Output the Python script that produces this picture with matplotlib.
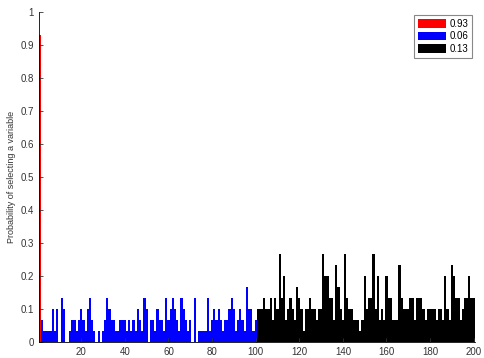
import matplotlib.pyplot as plt

plt.rcParams['font.family'] = ['Liberation Sans', 'DejaVu Sans']

# selection counts out of 30 runs for each variable
N_RUNS = 30
red_value = 0.93  # variable 1

# variables 2..100
blue_counts = [2, 1, 1, 1, 1, 3, 1, 3, 0,
               4, 3, 0, 0, 1, 2, 2, 1, 2, 3,
               2, 1, 3, 4, 2, 1, 0, 1, 0, 1,
               2, 4, 3, 2, 2, 1, 1, 2, 2, 2,
               1, 2, 1, 2, 1, 3, 2, 1, 4, 3,
               0, 2, 2, 1, 3, 2, 2, 1, 4, 2,
               3, 4, 3, 2, 1, 4, 3, 2, 1, 2,
               0, 4, 0, 1, 1, 1, 1, 4, 1, 2,
               3, 2, 3, 2, 1, 2, 2, 3, 4, 3,
               1, 2, 3, 2, 1, 5, 3, 3, 1, 2]

# variables 101..200
black_counts = [3, 3, 3, 4, 3, 3, 4, 2, 4, 3,
                8, 4, 6, 2, 3, 4, 3, 2, 5, 4,
                3, 1, 3, 3, 4, 3, 3, 2, 3, 3,
                8, 6, 6, 4, 4, 2, 7, 5, 3, 2,
                8, 4, 3, 3, 2, 2, 2, 1, 2, 6,
                3, 4, 4, 8, 3, 6, 2, 3, 2, 6,
                4, 4, 2, 2, 2, 7, 4, 3, 3, 3,
                4, 4, 2, 4, 4, 4, 3, 2, 3, 3,
                3, 3, 2, 3, 3, 2, 6, 3, 2, 7,
                6, 4, 4, 2, 3, 4, 4, 6, 4, 4]

legend_labels = ['0.93', '0.06', '0.13']

blue_x = list(range(2, 2 + len(blue_counts)))
black_x = list(range(101, 101 + len(black_counts)))
blue_p = [c / N_RUNS for c in blue_counts]
black_p = [c / N_RUNS for c in black_counts]

fig = plt.figure(figsize=(4.84, 3.58), dpi=100)
ax = fig.add_axes([0.08, 0.045, 0.901, 0.922])

h_red = ax.bar([1], [red_value], width=1, color='#ff0000', linewidth=0)
h_blue = ax.bar(blue_x, blue_p, width=1, color='#0000ff', linewidth=0)
h_black = ax.bar(black_x, black_p, width=1, color='black', linewidth=0)

ax.set_xlim(0.5, 200.5)
ax.set_ylim(0, 1)
ax.set_xticks(range(20, 201, 20))
ax.set_yticks([i / 10 for i in range(11)])
ax.set_yticklabels(['0', '0.1', '0.2', '0.3', '0.4', '0.5', '0.6', '0.7', '0.8', '0.9', '1'])
ax.tick_params(direction='in', length=3, width=0.6, labelsize=7, colors='#333333')
ax.spines['top'].set_visible(False)
ax.spines['right'].set_visible(False)
ax.spines['left'].set_linewidth(0.6)
ax.spines['bottom'].set_linewidth(0.6)
ax.set_ylabel('Probability of selecting a variable', fontsize=6.5, color='#333333', labelpad=3)

leg = ax.legend([h_red, h_blue, h_black], legend_labels,
                loc='upper right', bbox_to_anchor=(0.975, 0.958),
                bbox_transform=fig.transFigure, borderaxespad=0,
                fontsize=7, handlelength=2.9, handleheight=1.0,
                labelspacing=0.25, handletextpad=0.3, borderpad=0.4,
                fancybox=False, framealpha=1)
leg.get_frame().set_edgecolor('#888888')
leg.get_frame().set_linewidth(0.8)

fig.savefig('out.png', dpi=100)
